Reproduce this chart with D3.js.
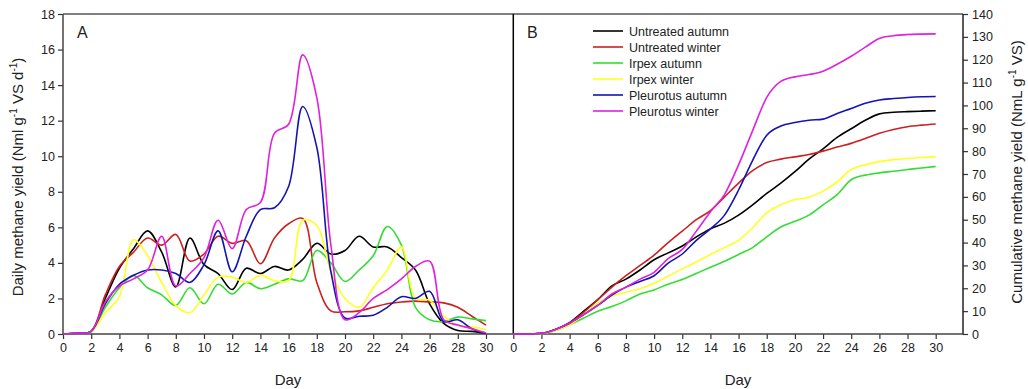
<!DOCTYPE html>
<html><head><meta charset="utf-8">
<script src="https://cdn.jsdelivr.net/npm/d3@7"></script>
<style>body{margin:0;background:#fff;} svg{display:block;font-family:"Liberation Sans",Arial,sans-serif;}</style>
</head><body>
<svg id="c" width="1028" height="389"></svg>
<script>
// ---- data ----
const days = d3.range(0, 31);
const xTicks = d3.range(0, 31, 2);
const dailyTicks = d3.range(0, 19, 2);
const cumTicks = d3.range(0, 141, 10);
const seriesNames = ["Untreated autumn","Untreated winter","Irpex autumn","Irpex winter","Pleurotus autumn","Pleurotus winter"];
const seriesColors = ["#000000","#cc2020","#33dd33","#ffff22","#1414b4","#e020e0"];

const untreatedAutumnDaily = [0,0.05,0.15,2.0,3.7,4.8,5.8,4.6,2.65,5.4,3.9,3.4,2.5,3.7,3.4,3.8,3.6,4.2,5.1,4.5,4.7,5.5,4.9,4.9,4.3,3.6,1.7,0.6,0.2,0.15,0.05];
const untreatedWinterDaily = [0,0.05,0.15,2.2,3.8,4.6,5.4,5.0,5.6,4.1,4.5,5.5,5.1,5.25,3.95,5.4,6.2,6.5,2.9,1.3,1.25,1.3,1.5,1.7,1.8,1.85,1.8,1.75,1.5,1.0,0.5];
const irpexAutumnDaily = [0,0.05,0.15,1.5,2.6,3.3,2.6,2.2,1.6,2.6,1.7,2.8,2.25,2.9,2.55,2.8,3.1,3.0,4.7,4.0,2.95,3.6,4.4,6.05,5.0,1.5,0.8,0.7,0.95,0.85,0.75];
const irpexWinterDaily = [0,0.05,0.12,1.2,2.1,5.3,4.4,2.9,1.6,1.2,2.2,3.2,3.2,2.9,3.3,3.0,3.0,6.4,6.1,3.5,2.0,1.5,2.6,3.6,4.9,2.0,1.9,1.0,0.5,0.4,0.25];
const pleurotusAutumnDaily = [0,0.05,0.15,1.7,2.8,3.3,3.6,3.6,3.4,2.9,3.9,5.8,3.5,5.5,7.0,7.1,8.3,12.8,10.5,3.5,0.9,1.0,1.05,1.5,2.1,2.0,2.4,0.7,0.8,0.3,0.05];
const pleurotusWinterDaily = [0,0.05,0.15,1.8,2.7,3.1,3.6,5.5,2.7,3.4,4.3,6.4,4.8,7.0,7.4,11.3,11.8,15.7,13.3,5.0,0.8,1.2,2.0,2.5,3.1,3.8,4.1,0.8,0.5,0.3,0.05];

const untreatedAutumnCum = [0,0,0.3,2,5,10,15,21,24,28,32.5,35.5,38.5,42.5,46,48.5,52,56.5,61.5,66,71,76.5,81,86,89.8,93.5,96.3,97,97.3,97.5,97.7];
const untreatedWinterCum = [0,0,0.3,2,5,9.5,15,20.5,25.5,30,34.5,40,45,50,54,60,66,71.5,75,76.5,77.5,78.5,80,81.8,83.4,85.5,87.8,89.5,90.7,91.4,91.9];
const irpexAutumnCum = [0,0,0.2,1.5,4,7,10,12,14.5,17.5,19.3,21.8,23.8,26.5,29.2,31.8,34.8,37.8,42.5,46.8,49.3,52,56.5,61,67.5,69.5,70.5,71.2,72,72.6,73.3];
const irpexWinterCum = [0,0,0.2,1.5,4,8.5,13.5,16.5,18.3,19.8,22.2,25.3,28.5,31.5,34.8,37.8,41,46.5,53,56.5,58.8,59.8,62.5,66.5,72,74,75.4,76.3,76.8,77.2,77.6];
const pleurotusAutumnCum = [0,0,0.3,2,4.7,8.5,12.5,17,20.5,23,25.5,31,35,41,46,52,63,76,87,91,92.5,93.5,94,96.5,98.7,101,102.4,103,103.5,103.8,103.9];
const pleurotusWinterCum = [0,0,0.3,2,4.7,8.5,12.5,17.5,20.5,24,27,33,37,45,53.5,61,74,89,103.5,110.5,112.5,113.5,115,118,121.5,125.5,129.3,130.5,131,131.2,131.3];

const dailySeries = [untreatedAutumnDaily,untreatedWinterDaily,irpexAutumnDaily,irpexWinterDaily,pleurotusAutumnDaily,pleurotusWinterDaily];
const cumSeries = [untreatedAutumnCum,untreatedWinterCum,irpexAutumnCum,irpexWinterCum,pleurotusAutumnCum,pleurotusWinterCum];

// ---- layout ----
const svg = d3.select("#c");
const yTop = 14, yBot = 334;
const xA = d3.scaleLinear().domain([0,30]).range([63, 486]);
const xB = d3.scaleLinear().domain([0,30]).range([513.3, 935.7]);
const yA = d3.scaleLinear().domain([0,18]).range([yBot, yTop]);
const yB = d3.scaleLinear().domain([0,140]).range([yBot, yTop]);
const fs = "12.5px";

svg.append("line").attr("x1",63).attr("x2",963).attr("y1",yTop).attr("y2",yTop).attr("stroke","#555").attr("stroke-width",1.5);
svg.append("line").attr("x1",513.3).attr("x2",513.3).attr("y1",yTop).attr("y2",yBot).attr("stroke","#000").attr("stroke-width",1.5);

function styleAxis(g){
  g.selectAll("path").remove();
  g.selectAll("line").attr("stroke","#333").attr("stroke-width",1.2);
  g.selectAll("text").attr("font-size",fs).attr("fill","#222").attr("font-family","Liberation Sans, Arial, sans-serif");
}
[[xA,63,513.3],[xB,513.3,963]].forEach(([sc,a,b])=>{
  const g = svg.append("g").attr("transform",`translate(0,${yBot})`)
    .call(d3.axisBottom(sc).tickValues(xTicks).tickSize(5).tickPadding(4));
  styleAxis(g);
  svg.append("line").attr("x1",a).attr("x2",b).attr("y1",yBot).attr("y2",yBot).attr("stroke","#444").attr("stroke-width",1.5);
});
const gl = svg.append("g").attr("transform","translate(63,0)")
  .call(d3.axisLeft(yA).tickValues(dailyTicks).tickSize(5).tickPadding(3));
styleAxis(gl);
svg.append("line").attr("x1",63).attr("x2",63).attr("y1",yTop).attr("y2",yBot).attr("stroke","#444").attr("stroke-width",1.5);
const gr = svg.append("g").attr("transform","translate(963,0)")
  .call(d3.axisRight(yB).tickValues(cumTicks).tickSize(5).tickPadding(4));
styleAxis(gr);
svg.append("line").attr("x1",963).attr("x2",963).attr("y1",yTop).attr("y2",yBot).attr("stroke","#222").attr("stroke-width",1.5);

const lineA = d3.line().x((d,i)=>xA(days[i])).y(d=>yA(Math.max(0,d))).curve(d3.curveCatmullRom.alpha(0.5));
const lineB = d3.line().x((d,i)=>xB(days[i])).y(d=>yB(d)).curve(d3.curveMonotoneX);
const clip = svg.append("clipPath").attr("id","clipA").append("rect").attr("x",63).attr("y",yTop).attr("width",450).attr("height",yBot-yTop+0.5);
dailySeries.forEach((s,i)=>{
  svg.append("path").attr("d",lineA(s)).attr("fill","none").attr("clip-path","url(#clipA)").attr("stroke",seriesColors[i]).attr("stroke-width",1.6);
});
cumSeries.forEach((s,i)=>{
  svg.append("path").attr("d",lineB(s)).attr("fill","none").attr("stroke",seriesColors[i]).attr("stroke-width",1.6);
});

svg.append("text").attr("x",77).attr("y",38).attr("font-size","16px").attr("fill","#222").text("A");
svg.append("text").attr("x",527).attr("y",38).attr("font-size","16px").attr("fill","#222").text("B");

seriesNames.forEach((n,i)=>{
  const y = 31 + i*16;
  svg.append("line").attr("x1",593).attr("x2",623).attr("y1",y).attr("y2",y).attr("stroke",seriesColors[i]).attr("stroke-width",1.6);
  svg.append("text").attr("x",629).attr("y",y+4.5).attr("font-size",fs).attr("fill","#222").text(n);
});

svg.append("text").attr("x",288).attr("y",385).attr("text-anchor","middle").attr("font-size","15px").attr("fill","#222").text("Day");
svg.append("text").attr("x",738).attr("y",385).attr("text-anchor","middle").attr("font-size","15px").attr("fill","#222").text("Day");

function rotLabel(x, y, parts){
  const t = svg.append("text").attr("transform",`translate(${x},${y}) rotate(-90)`).attr("text-anchor","middle").attr("font-size","15px").attr("fill","#222");
  parts.forEach(p=>{
    const ts = t.append("tspan").text(p[0]);
    if(p[1]==="sup") ts.attr("font-size","10px").attr("dy","-6");
    else if(p[1]==="back") ts.attr("dy","6");
  });
}
rotLabel(23, 177, [["Daily methane yield (Nml g"],["-1","sup"],[" VS d","back"],["-1","sup"],[")","back"]]);
rotLabel(1022, 172, [["Cumulative methane yield (NmL g"],["-1","sup"],[" VS)","back"]]);
</script>
</body></html>
